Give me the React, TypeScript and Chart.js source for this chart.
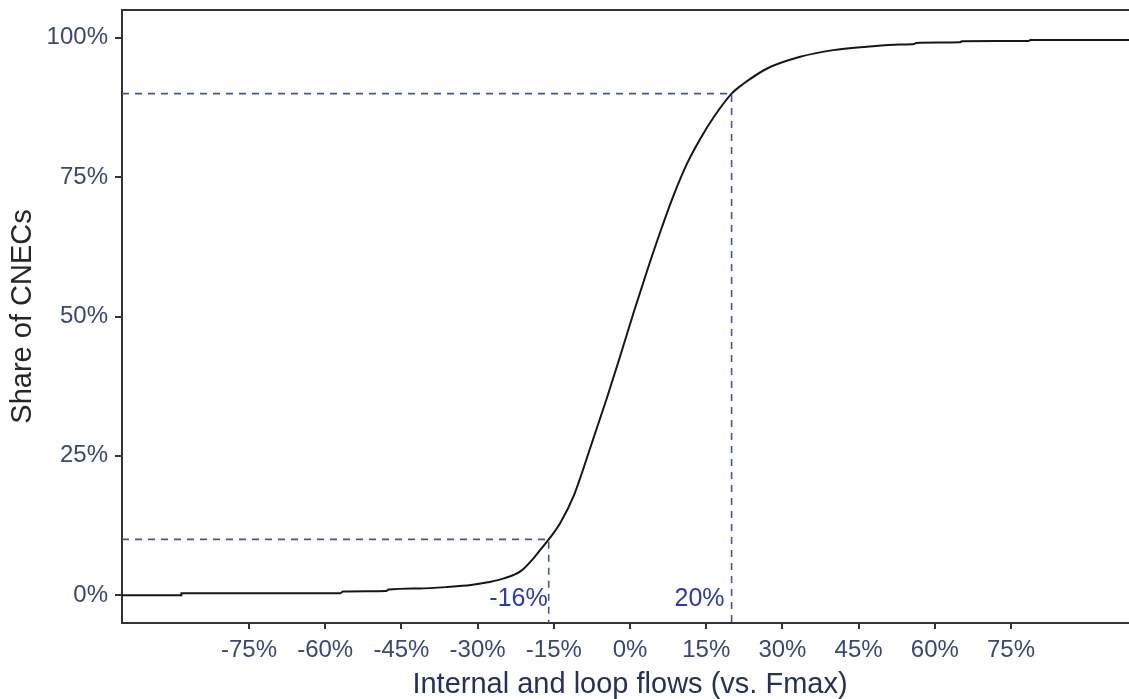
import React, { useEffect, useRef } from "react";
import { Chart, registerables } from "chart.js";

Chart.register(...registerables);

// Cumulative distribution (x: flow vs Fmax in %, y: share of CNECs in %)
const flowX = [
  -100, -88.3, -88.3, -57, -56.5, -48, -47.5, -41.5, -36, -31.3, -28, -24.8, -21.5, -19.5, -17.6, -16,
  -13.7, -11, -7.8, -4.5, -1.9, 0.75, 3.4, 6.0, 8.6, 11.2, 13.9, 16.5, 20, 22.4, 27, 33.5, 40, 46.6,
  53, 56, 56.3, 65, 65.3, 78.5, 78.8, 100,
];
const shareY = [
  0, 0, 0.35, 0.35, 0.65, 0.75, 1.0, 1.2, 1.45, 1.8, 2.3, 3.0, 4.3, 6.1, 8.2, 10,
  13.0, 18.0, 26.5, 35.5, 43.0, 50.8, 58.3, 65.3, 71.8, 77.4, 82.0, 85.8, 90, 91.8, 94.5, 96.6, 97.8, 98.4,
  98.8, 98.9, 99.1, 99.2, 99.4, 99.45, 99.6, 99.6,
];

// Percentile markers
const p10 = { x: -16, y: 10, label: "-16%" };
const p90 = { x: 20, y: 90, label: "20%" };

const xTickValues = [-75, -60, -45, -30, -15, 0, 15, 30, 45, 60, 75];
const yTickValues = [0, 25, 50, 75, 100];
const xMin = -100;
const xMax = 100;
const yMin = -5;
const yMax = 105;

const xTitle = "Internal and loop flows (vs. Fmax)";
const yTitle = "Share of CNECs";

const TICK_COLOR = "#3b4677";
const AXIS_COLOR = "#333333";
const DASH_COLOR = "#46559a";
const LABEL_COLOR = "#2a3ab0";
const FONT = "'Liberation Sans', Arial, sans-serif";

export default function App() {
  const ref = useRef<HTMLCanvasElement | null>(null);

  useEffect(() => {
    if (!ref.current) return;

    const frameAndLabels = {
      id: "frameAndLabels",
      afterDatasetsDraw(chart: any) {
        const { ctx, chartArea } = chart;
        const xs = chart.scales.x;
        const ys = chart.scales.y;
        ctx.save();
        // top frame line
        ctx.strokeStyle = AXIS_COLOR;
        ctx.lineWidth = 2;
        ctx.beginPath();
        ctx.moveTo(chartArea.left, chartArea.top);
        ctx.lineTo(chartArea.right, chartArea.top);
        ctx.stroke();
        // percentile labels
        ctx.fillStyle = LABEL_COLOR;
        ctx.font = `25px ${FONT}`;
        ctx.textAlign = "right";
        ctx.textBaseline = "middle";
        const ly = ys.getPixelForValue(-0.75);
        ctx.fillText(p10.label, xs.getPixelForValue(p10.x) - 1, ly);
        ctx.fillText(p90.label, xs.getPixelForValue(p90.x) - 7, ly);
        ctx.restore();
      },
    };

    const chart = new Chart(ref.current, {
      type: "scatter",
      data: {
        datasets: [
          {
            data: [
              { x: xMin, y: p90.y },
              { x: p90.x, y: p90.y },
              { x: p90.x, y: yMin },
            ],
            showLine: true,
            borderColor: DASH_COLOR,
            borderWidth: 1.6,
            borderDash: [7, 6],
            pointRadius: 0,
            tension: 0,
          },
          {
            data: [
              { x: xMin, y: p10.y },
              { x: p10.x, y: p10.y },
              { x: p10.x, y: yMin },
            ],
            showLine: true,
            borderColor: DASH_COLOR,
            borderWidth: 1.6,
            borderDash: [7, 6],
            pointRadius: 0,
            tension: 0,
          },
          {
            data: flowX.map((x, i) => ({ x, y: shareY[i] })),
            showLine: true,
            borderColor: "#161616",
            borderWidth: 2,
            pointRadius: 0,
            cubicInterpolationMode: "monotone",
          },
        ],
      },
      options: {
        animation: false,
        responsive: true,
        maintainAspectRatio: false,
        layout: { padding: { left: 0, top: 10, right: 12, bottom: 0 } },
        plugins: {
          legend: { display: false },
          tooltip: { enabled: false },
        },
        scales: {
          x: {
            type: "linear",
            min: xMin,
            max: xMax,
            afterBuildTicks: (scale: any) => {
              scale.ticks = xTickValues.map((v) => ({ value: v }));
            },
            afterFit: (scale: any) => {
              scale.height = 76;
              scale.paddingLeft = 0;
              scale.paddingRight = 0;
            },
            grid: {
              drawOnChartArea: false,
              drawTicks: true,
              tickLength: 6,
              color: AXIS_COLOR,
              lineWidth: 2,
            },
            border: { display: true, color: AXIS_COLOR, width: 2 },
            ticks: {
              color: TICK_COLOR,
              font: { family: FONT, size: 24 },
              padding: 7,
              maxRotation: 0,
              autoSkip: false,
              callback: (v: any) => `${v}%`,
            },
            title: {
              display: true,
              text: xTitle,
              color: "#27305a",
              font: { family: FONT, size: 29, lineHeight: 1 },
              padding: { top: 0, bottom: 0 },
            },
          },
          y: {
            type: "linear",
            min: yMin,
            max: yMax,
            afterBuildTicks: (scale: any) => {
              scale.ticks = yTickValues.map((v) => ({ value: v }));
            },
            afterFit: (scale: any) => {
              scale.width = 122;
              scale.paddingTop = 0;
              scale.paddingBottom = 0;
            },
            grid: {
              drawOnChartArea: false,
              drawTicks: true,
              tickLength: 7,
              color: AXIS_COLOR,
              lineWidth: 2,
            },
            border: { display: true, color: AXIS_COLOR, width: 2 },
            ticks: {
              color: TICK_COLOR,
              font: { family: FONT, size: 24 },
              padding: 7,
              autoSkip: false,
              callback: (v: any) => `${v}%`,
            },
            title: {
              display: true,
              text: yTitle,
              color: "#262626",
              font: { family: FONT, size: 29, lineHeight: 1 },
              padding: { top: 8, bottom: 0 },
            },
          },
        },
      },
      plugins: [frameAndLabels],
    } as any);

    return () => chart.destroy();
  }, []);

  return (
    <div
      style={{
        position: "fixed",
        left: 0,
        top: 0,
        width: 1129,
        height: 699,
        overflow: "hidden",
        background: "#ffffff",
      }}
    >
      <div style={{ position: "relative", width: 1150, height: 699 }}>
        <canvas ref={ref} />
      </div>
    </div>
  );
}
